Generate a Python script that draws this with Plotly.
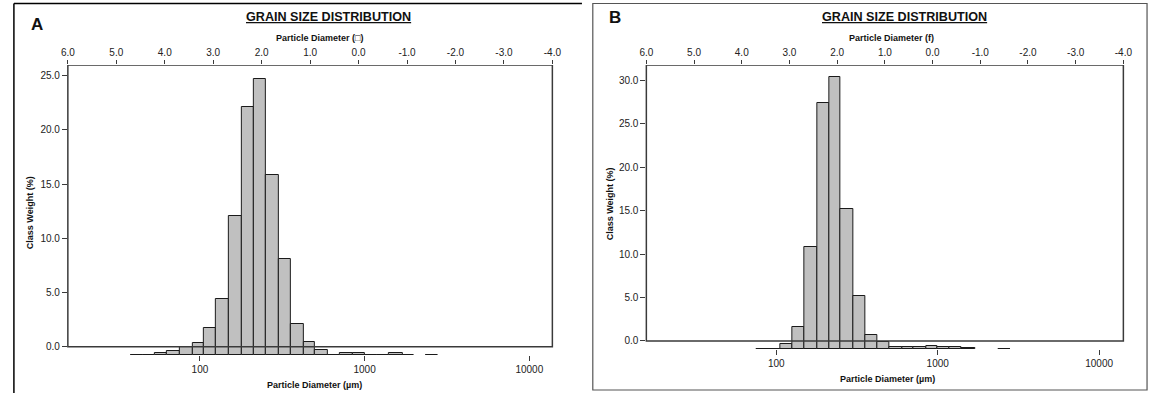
import numpy as np
import plotly.graph_objects as go

# ---- data ----
BIN_LO_UM = [38, 45, 53, 63, 75, 90, 106, 125, 150, 180, 212, 250, 300,
             355, 425, 500, 600, 710, 850, 1000, 1180, 1400, 1700, 2000, 2360]
BIN_HI_UM = [45, 53, 63, 75, 90, 106, 125, 150, 180, 212, 250, 300, 355,
             425, 500, 600, 710, 850, 1000, 1180, 1400, 1700, 2000, 2360, 2800]

WEIGHT_A = [0.03, 0.03, 0.19, 0.40, 0.74, 1.11, 2.55, 5.17, 12.89, 22.88, 25.47,
            16.64, 8.86, 2.89, 1.20, 0.50, 0.03, 0.20, 0.20, 0.05, 0.05, 0.20,
            0.03, None, 0.05]
WEIGHT_B = [None, None, None, None, 0.03, 0.03, 0.58, 2.61, 11.74, 28.38, 31.37,
            16.11, 6.18, 1.65, 0.88, 0.23, 0.23, 0.23, 0.42, 0.31, 0.31, 0.12,
            None, None, 0.03]

PHI_TICKS = [6, 5, 4, 3, 2, 1, 0, -1, -2, -3, -4]
PHI_TICK_TEXT = ["6.0", "5.0", "4.0", "3.0", "2.0", "1.0", "0.0", "-1.0", "-2.0", "-3.0", "-4.0"]
UM_TICKS = [100, 1000, 10000]
UM_TICK_TEXT = ["100", "1000", "10000"]
YTICKS_A = [0, 5, 10, 15, 20, 25]
YTICKS_B = [0, 5, 10, 15, 20, 25, 30]

# ---- style / layout constants ----
W, H = 1159, 393
BASE_A, TOP_A = -0.80, 26.0
BASE_B, TOP_B = -0.96, 31.76
FILL = "#c0c0c0"
EDGE = "#1a1a1a"
FRAME = "#3a3a3a"
FONT = "Liberation Sans, Arial, sans-serif"
TXT = "#222222"


def px(x):
    return x / W


def py(y):
    return (H - y) / H


lo = np.log10(np.array(BIN_LO_UM, dtype=float))
hi = np.log10(np.array(BIN_HI_UM, dtype=float))
centers = (lo + hi) / 2
widths = hi - lo

fig = go.Figure()

fig.add_trace(go.Bar(x=centers, y=WEIGHT_A, width=widths, base=BASE_A,
                     xaxis="x", yaxis="y", marker=dict(color=FILL, line=dict(color=EDGE, width=1)),
                     showlegend=False, hoverinfo="y"))
fig.add_trace(go.Bar(x=centers, y=WEIGHT_B, width=widths, base=BASE_B,
                     xaxis="x3", yaxis="y2", marker=dict(color=FILL, line=dict(color=EDGE, width=1)),
                     showlegend=False, hoverinfo="y"))
# empty traces so the top phi axes are drawn
fig.add_trace(go.Scatter(x=[PHI_TICKS[0], PHI_TICKS[-1]], y=[None, None], xaxis="x2", yaxis="y",
                         mode="markers", showlegend=False, hoverinfo="skip"))
fig.add_trace(go.Scatter(x=[PHI_TICKS[0], PHI_TICKS[-1]], y=[None, None], xaxis="x4", yaxis="y2",
                         mode="markers", showlegend=False, hoverinfo="skip"))

tickfont = dict(family=FONT, size=10, color=TXT)

dom_a = [px(61.7), px(553)]
dom_b = [px(648.3), px(1132)]

common_x = dict(showgrid=False, zeroline=False, showline=False, ticks="outside",
                ticklen=5, tickwidth=1, tickcolor=FRAME, tickfont=tickfont)

fig.update_layout(
    width=W, height=H, margin=dict(l=0, r=0, t=0, b=0),
    plot_bgcolor="white", paper_bgcolor="white", bargap=0,
    xaxis=dict(domain=dom_a, anchor="y", range=[1.198, 4.140],
               tickvals=np.log10(UM_TICKS), ticktext=UM_TICK_TEXT, **common_x),
    xaxis2=dict(domain=dom_a, anchor="y", overlaying="x", side="top", range=[6, -4],
                tickvals=PHI_TICKS, ticktext=PHI_TICK_TEXT, **{**common_x, "ticklen": 4}),
    xaxis3=dict(domain=dom_b, anchor="y2", range=[1.1955, 4.150],
                tickvals=np.log10(UM_TICKS), ticktext=UM_TICK_TEXT, **common_x),
    xaxis4=dict(domain=dom_b, anchor="y2", overlaying="x3", side="top", range=[6, -4],
                tickvals=PHI_TICKS, ticktext=PHI_TICK_TEXT, **{**common_x, "ticklen": 4}),
    yaxis=dict(domain=[py(355.3), py(65)], anchor="x", range=[BASE_A, TOP_A],
               tickvals=YTICKS_A, tickformat=".1f", **common_x),
    yaxis2=dict(domain=[py(349.3), py(65)], anchor="x3", range=[BASE_B, TOP_B],
                tickvals=YTICKS_B, tickformat=".1f", **common_x),
)

shapes = [
    # plot frames (box from 0.0 to top)
    dict(type="rect", xref="x domain", yref="y", x0=0, x1=1, y0=0, y1=TOP_A,
         line=dict(color=FRAME, width=1.5), fillcolor="rgba(0,0,0,0)", layer="above"),
    dict(type="rect", xref="x3 domain", yref="y2", x0=0, x1=1, y0=0, y1=TOP_B,
         line=dict(color=FRAME, width=1.5), fillcolor="rgba(0,0,0,0)", layer="above"),
    # panel A border (left + top)
    dict(type="line", xref="paper", yref="paper", x0=px(7), x1=px(7), y0=0, y1=py(3.5),
         line=dict(color="black", width=1.5)),
    dict(type="line", xref="paper", yref="paper", x0=px(7), x1=px(583), y0=py(3.5), y1=py(3.5),
         line=dict(color="black", width=1.5)),
    # panel B border box
    dict(type="rect", xref="paper", yref="paper", x0=px(594), x1=px(1156), y0=py(390), y1=py(3.5),
         line=dict(color="#555555", width=1.2), fillcolor="rgba(0,0,0,0)"),
]

ann = []


def text(x, y, s, size=9, bold=True, angle=0, xanchor="center"):
    ann.append(dict(x=px(x), y=py(y), xref="paper", yref="paper", text=s, showarrow=False,
                    xanchor=xanchor, yanchor="middle", textangle=angle,
                    font=dict(family=FONT, size=size, color="#111111",
                              weight="bold" if bold else "normal")))


text(30, 25, "A", size=17)
text(617, 18, "B", size=17)
text(326, 16.7, "<u>GRAIN SIZE DISTRIBUTION</u>", size=12.6)
text(910, 16.7, "<u>GRAIN SIZE DISTRIBUTION</u>", size=12.6)
text(317, 38.5, "Particle Diameter (□)", size=9)
text(897, 38.5, "Particle Diameter (f)", size=9)
text(312, 385, "Particle Diameter (µm)", size=9)
text(893, 379, "Particle Diameter (µm)", size=9)
text(23.5, 213, "Class Weight (%)", size=9, angle=-90)
text(611.7, 204, "Class Weight (%)", size=9, angle=-90)

fig.update_layout(shapes=shapes, annotations=ann)

fig.write_html("out.html", config={"displayModeBar": False},
               post_script="document.body.style.margin='0';document.body.style.overflow='hidden';")
